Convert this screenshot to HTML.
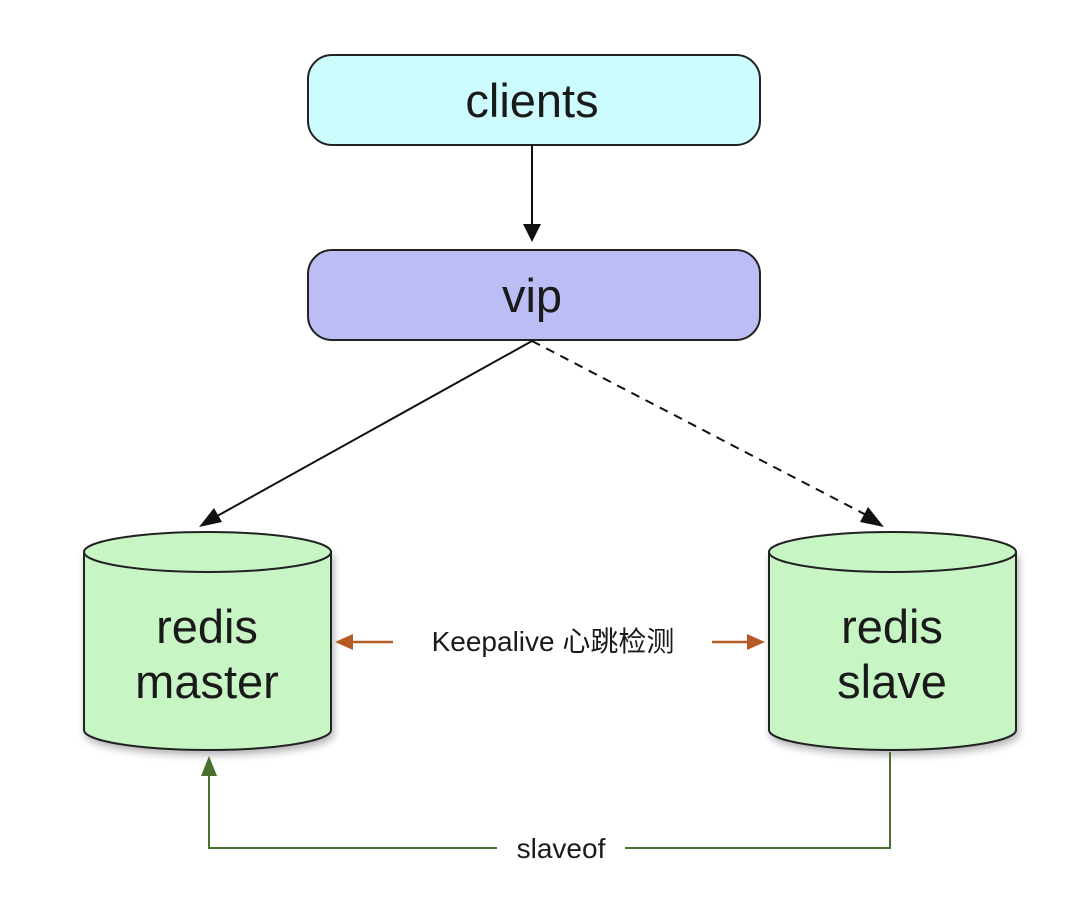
<!DOCTYPE html>
<html><head><meta charset="utf-8"><style>
html,body{margin:0;padding:0;background:#fff;}
svg{display:block;}
text{font-family:"Liberation Sans","Noto Sans CJK SC",sans-serif;fill:#1a1a1a;}
</style></head><body>
<svg width="1080" height="913" viewBox="0 0 1080 913" xmlns="http://www.w3.org/2000/svg">
<defs>
<filter id="sh" x="-10%" y="-10%" width="130%" height="130%"><feDropShadow dx="2" dy="4" stdDeviation="4" flood-color="#000" flood-opacity="0.3"/></filter>
</defs>
<rect x="308" y="55" width="452" height="90" rx="24" fill="#ccfcfd" stroke="#222" stroke-width="2"/>
<text x="532" y="117" font-size="47" text-anchor="middle">clients</text>
<line x1="532" y1="145" x2="532" y2="228" stroke="#111" stroke-width="2"/>
<polygon points="523,224 541,224 532,242" fill="#111"/>
<rect x="308" y="250" width="452" height="90" rx="24" fill="#bdbdf5" stroke="#222" stroke-width="2"/>
<text x="532" y="312" font-size="47" text-anchor="middle">vip</text>
<line x1="532" y1="341" x2="210" y2="520" stroke="#111" stroke-width="2"/>
<polygon points="199,527 214,508 222,522" fill="#111"/>
<line x1="532" y1="341" x2="872" y2="518" stroke="#111" stroke-width="2" stroke-dasharray="9,7"/>
<polygon points="884,527 860,522 868,507" fill="#111"/>
<g filter="url(#sh)">
<path d="M84,552 L84,730 A123.5,20 0 0 0 331,730 L331,552 Z" fill="#c8f5c4" stroke="#222" stroke-width="2"/>
</g>
<ellipse cx="207.5" cy="552" rx="123.5" ry="20" fill="#c8f5c4" stroke="#222" stroke-width="2"/>
<text x="207" y="643" font-size="47" text-anchor="middle">redis</text>
<text x="207" y="698" font-size="47" text-anchor="middle">master</text>
<g filter="url(#sh)">
<path d="M769,552 L769,730 A123.5,20 0 0 0 1016,730 L1016,552 Z" fill="#c8f5c4" stroke="#222" stroke-width="2"/>
</g>
<ellipse cx="892.5" cy="552" rx="123.5" ry="20" fill="#c8f5c4" stroke="#222" stroke-width="2"/>
<text x="892" y="643" font-size="47" text-anchor="middle">redis</text>
<text x="892" y="698" font-size="47" text-anchor="middle">slave</text>
<line x1="348" y1="642" x2="393" y2="642" stroke="#b45a24" stroke-width="2.5"/>
<polygon points="335,642 353,634 353,650" fill="#b45a24"/>
<line x1="712" y1="642" x2="752" y2="642" stroke="#b45a24" stroke-width="2.5"/>
<polygon points="765,642 747,634 747,650" fill="#b45a24"/>
<text x="553" y="651" font-size="28" text-anchor="middle">Keepalive 心跳检测</text>
<polyline points="890,752 890,848 625,848" fill="none" stroke="#4a7030" stroke-width="2"/>
<polyline points="497,848 209,848 209,772" fill="none" stroke="#4a7030" stroke-width="2"/>
<polygon points="209,756 201,776 217,776" fill="#4a7030"/>
<text x="561" y="858" font-size="28" text-anchor="middle">slaveof</text>
</svg>
</body></html>
